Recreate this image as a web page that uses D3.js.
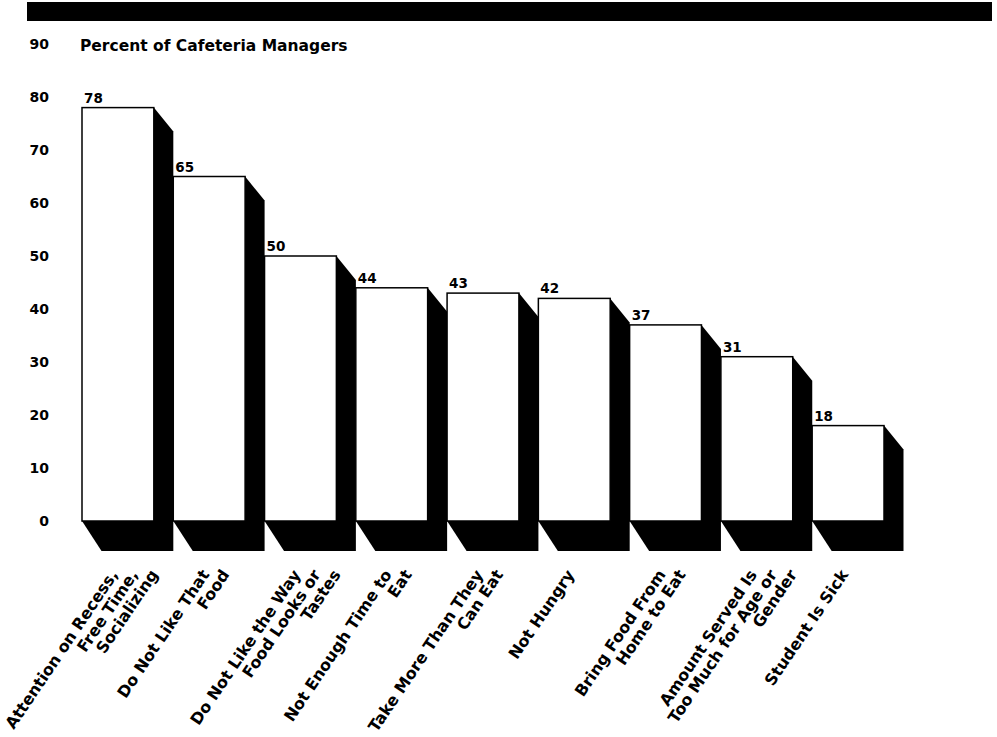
<!DOCTYPE html>
<html>
<head>
<meta charset="utf-8">
<script src="https://cdn.jsdelivr.net/npm/d3@7"></script>
<style>
  body { margin: 0; background: #fff; }
  text { font-family: "DejaVu Sans", sans-serif; font-weight: bold; fill: #000; }
</style>
</head>
<body>
<svg id="svg"></svg>
<script>
// chart data
const categories = [
    "Attention on Recess,\nFree Time,\nSocializing",
    "Do Not Like That\nFood",
    "Do Not Like the Way\nFood Looks or\nTastes",
    "Not Enough Time to\nEat",
    "Take More Than They\nCan Eat",
    "Not Hungry",
    "Bring Food From\nHome to Eat",
    "Amount Served Is\nToo Much for Age or\nGender",
    "Student Is Sick"
];
const values = [78, 65, 50, 44, 43, 42, 37, 31, 18];
const yTicks = [0, 10, 20, 30, 40, 50, 60, 70, 80, 90];
const yTitle = "Percent of Cafeteria Managers";

const width = 997;
const height = 737;

let svg = d3.select("#svg");
let xScale;
let yScale;

// depth of the black "3d" shadow
const depthX = 19.5;
const depthTop = 24;
const depthBottom = 30;
const labelAngle = 56;

function initializeSVG() {
    svg.attr("width", width).attr("height", height);

    // black band across the top
    svg.append("rect")
        .attr("x", 27)
        .attr("y", 2)
        .attr("width", 965)
        .attr("height", 19)
        .attr("fill", "#000");

    xScale = d3.scaleBand()
        .domain(categories)
        .range([82, 884])
        .paddingInner(0.213)
        .paddingOuter(0);

    yScale = d3.scaleLinear()
        .domain([0, 90])
        .range([521, 44]);

    // y axis: labels only
    const yAxis = svg.append("g")
        .attr("class", "y-axis")
        .attr("transform", "translate(49,0)")
        .call(d3.axisLeft(yScale).tickValues(yTicks).tickSize(0).tickPadding(0));
    yAxis.select(".domain").remove();
    yAxis.selectAll("text")
        .style("font-family", "'DejaVu Sans', sans-serif")
        .style("font-weight", "bold")
        .style("font-size", "14px")
        .attr("fill", "#000");

    svg.append("text")
        .attr("x", 80)
        .attr("y", 51)
        .style("font-size", "15.5px")
        .text(yTitle);
}

function drawBars() {
    const data = categories.map((c, i) => ({ name: c, value: values[i] }));
    const bottom = yScale(0);

    const bars = svg.selectAll(".bar")
        .data(data)
        .enter().append("g")
        .attr("class", "bar");

    // shadow
    bars.append("polygon")
        .attr("fill", "#000")
        .attr("points", d => {
            const x0 = xScale(d.name);
            const x1 = x0 + xScale.bandwidth();
            const top = yScale(d.value);
            return [
                [x1, top],
                [x1 + depthX, top + depthTop],
                [x1 + depthX, bottom + depthBottom],
                [x0 + depthX, bottom + depthBottom],
                [x0, bottom]
            ].join(" ");
        });

    // front face
    bars.append("rect")
        .attr("x", d => xScale(d.name))
        .attr("y", d => yScale(d.value))
        .attr("width", xScale.bandwidth())
        .attr("height", d => bottom - yScale(d.value))
        .attr("fill", "#fff")
        .attr("stroke", "#000")
        .attr("stroke-width", 1.5);

    // value labels
    bars.append("text")
        .attr("x", d => xScale(d.name) + 2)
        .attr("y", d => yScale(d.value) - 5)
        .style("font-size", "13.5px")
        .text(d => d.value);

    // rotated category labels, each line ends on the same height
    const rad = labelAngle * Math.PI / 180;
    const fontSize = 16;
    const capH = fontSize * 0.729;
    const lineShift = 20;
    data.forEach(d => {
        const lines = d.name.split("\n");
        const capTopX = xScale(d.name) + 27;
        const capTopY = 568;
        lines.forEach((line, k) => {
            const bx = capTopX + k * lineShift + capH * Math.sin(rad);
            const by = capTopY + capH * Math.cos(rad);
            svg.append("text")
                .attr("class", "cat-label")
                .attr("text-anchor", "end")
                .attr("transform", `translate(${bx},${by}) rotate(${-labelAngle})`)
                .style("font-size", fontSize + "px")
                .text(line);
        });
    });
}

function initialize() {
    initializeSVG();
    drawBars();
}

initialize();
</script>
</body>
</html>
